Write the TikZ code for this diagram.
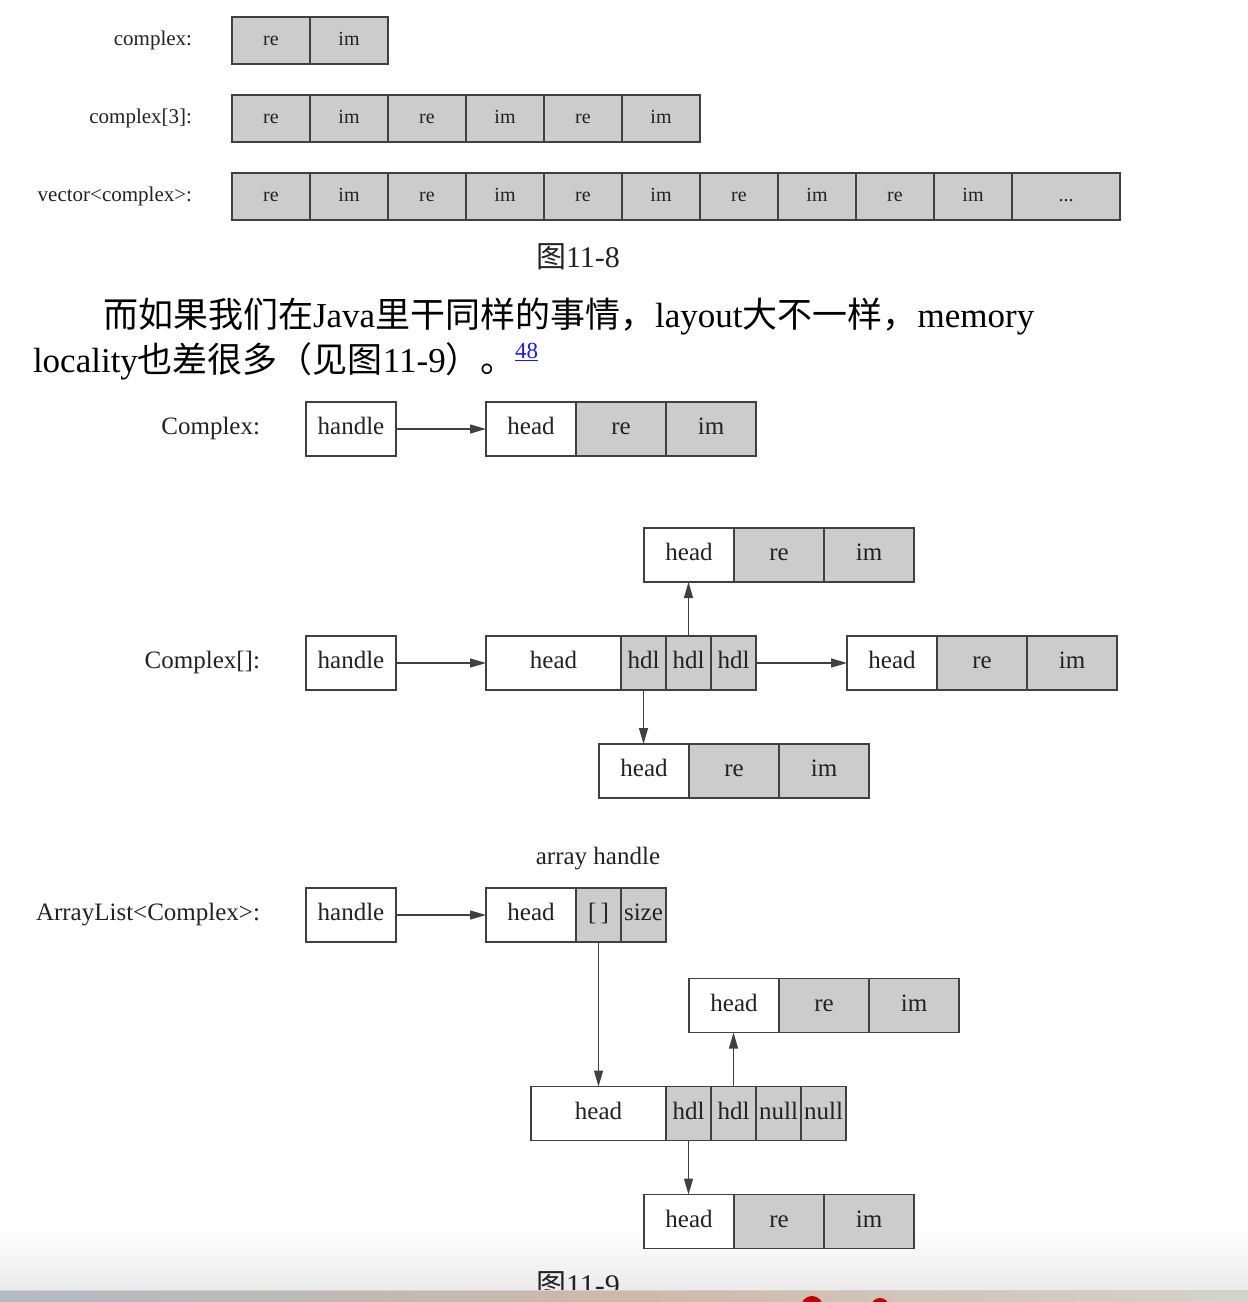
\documentclass[tikz,border=0pt]{standalone}
\usepackage{fontspec}
\setmainfont{Liberation Serif}
\newfontfamily\cjk{Noto Sans CJK SC}
\usetikzlibrary{arrows.meta}
\definecolor{cellgray}{HTML}{CCCCCC}
\definecolor{linec}{HTML}{404040}
\definecolor{txt}{HTML}{222222}
\definecolor{linkblue}{HTML}{1A1AE6}
\begin{document}
\begin{tikzpicture}[x=1pt,y=-1pt,
  every node/.style={inner sep=0pt, outer sep=0pt},
  tcell/.style={draw=linec, line width=1.3pt, fill=cellgray, minimum width=78pt, minimum height=47pt,
    text=txt, font=\fontsize{20}{24}\selectfont, text height=13.6pt, text depth=4.4pt, anchor=west},
  tlabel/.style={text=txt, font=\fontsize{21}{25}\selectfont, text height=14.3pt, text depth=4.6pt, anchor=east},
  mcell/.style={draw=linec, line width=1.3pt, fill=white, minimum width=90pt, minimum height=54pt,
    text=txt, font=\fontsize{25}{30}\selectfont, text height=17pt, text depth=5.5pt, anchor=west},
  gc/.style={fill=cellgray},
  mlabel/.style={text=txt, font=\fontsize{25}{30}\selectfont, text height=17pt, text depth=5.5pt, anchor=east},
  arr/.style={draw=linec, line width=1.3pt, -{Triangle[length=16pt,width=9pt]}},
  caption/.style={text=txt, font=\fontsize{30}{34}\selectfont},
  para/.style={text=black, font=\fontsize{35}{42}\selectfont, anchor=west}
]
\useasboundingbox (0,0) rectangle (1248,1302);
\fill[white] (0,0) rectangle (1248,1302);
\shade[top color=white, bottom color=black!8] (0,1228) rectangle (1248,1290);

% ---------- figure 11-8 ----------
\node[tlabel] (la) at (192,40.5) {complex:};
\node[tcell] (a1) at (232,40.5) {re};
\node[tcell] (a2) at (a1.east) {im};

\node[tlabel] (lb) at (192,118.5) {complex[3]:};
\foreach \i/\t in {1/re,2/im,3/re,4/im,5/re,6/im}
  \node[tcell] (b\i) at ({232+78*(\i-1)},118.5) {\t};

\node[tlabel] (lc) at (192,196.5) {vector<complex>:};
\foreach \i/\t in {1/re,2/im,3/re,4/im,5/re,6/im,7/re,8/im,9/re,10/im}
  \node[tcell] (c\i) at ({232+78*(\i-1)},196.5) {\t};
\node[tcell, minimum width=108pt] (cdots) at (c10.east) {...};

\node[caption] (cap1) at (578,257) {{\cjk 图}11-8};

% ---------- paragraph ----------
\node[para] (p1) at (103,316) {{\cjk 而如果我们在}Java{\cjk 里干同样的事情，}layout{\cjk 大不一样，}memory};
\node[para] (p2) at (33,361) {locality{\cjk 也差很多（见图}11-9{\cjk ）。}};
\node[anchor=west, text=linkblue, font=\fontsize{23}{27}\selectfont] (fn) at (515,352) {\underline{48}};

% ---------- Complex ----------
\node[mlabel] (l1) at (260,429) {Complex:};
\node[mcell] (h1) at (306,429) {handle};
\node[mcell] (o1) at (486,429) {head};
\node[mcell,gc] (o1r) at (o1.east) {re};
\node[mcell,gc] (o1i) at (o1r.east) {im};
\draw[arr] (h1.east) -- (o1.west);

% ---------- Complex[] ----------
\node[mlabel] (l2) at (260,663) {Complex[]:};
\node[mcell] (h2) at (306,663) {handle};
\node[mcell, minimum width=135pt] (ar) at (486,663) {head};
\node[mcell,gc, minimum width=45pt] (d1) at (ar.east) {hdl};
\node[mcell,gc, minimum width=45pt] (d2) at (d1.east) {hdl};
\node[mcell,gc, minimum width=45pt] (d3) at (d2.east) {hdl};

\node[mcell] (t1) at (644,555) {head};
\node[mcell,gc] (t1r) at (t1.east) {re};
\node[mcell,gc] (t1i) at (t1r.east) {im};

\node[mcell] (r1) at (847,663) {head};
\node[mcell,gc] (r1r) at (r1.east) {re};
\node[mcell,gc] (r1i) at (r1r.east) {im};

\node[mcell] (u1) at (599,771) {head};
\node[mcell,gc] (u1r) at (u1.east) {re};
\node[mcell,gc] (u1i) at (u1r.east) {im};

\draw[arr] (h2.east) -- (ar.west);
\draw[arr] (d2.north) -- (d2.north |- t1.south);
\draw[arr] (d1.south) -- (d1.south |- u1.north);
\draw[arr] (d3.east) -- (r1.west);

% ---------- ArrayList<Complex> ----------
\node[text=txt, font=\fontsize{25}{30}\selectfont] (ah) at (598,859) {array handle};
\node[mlabel] (l3) at (260,915) {ArrayList<Complex>:};
\node[mcell] (h3) at (306,915) {handle};
\node[mcell] (al) at (486,915) {head};
\node[mcell,gc, minimum width=45pt] (alb) at (al.east) {[\,]};
\node[mcell,gc, minimum width=45pt] (als) at (alb.east) {size};

\node[mcell, minimum width=135pt] (ea) at (531,1113.5) {head};
\node[mcell,gc, minimum width=45pt] (e1) at (ea.east) {hdl};
\node[mcell,gc, minimum width=45pt] (e2) at (e1.east) {hdl};
\node[mcell,gc, minimum width=45pt] (e3) at (e2.east) {null};
\node[mcell,gc, minimum width=45pt] (e4) at (e3.east) {null};

\node[mcell] (t2) at (689,1005.5) {head};
\node[mcell,gc] (t2r) at (t2.east) {re};
\node[mcell,gc] (t2i) at (t2r.east) {im};

\node[mcell] (u2) at (644,1221.5) {head};
\node[mcell,gc] (u2r) at (u2.east) {re};
\node[mcell,gc] (u2i) at (u2r.east) {im};

\draw[arr] (h3.east) -- (al.west);
\draw[arr] (alb.south) -- (alb.south |- ea.north);
\draw[arr] (e2.north) -- (e2.north |- t2.south);
\draw[arr] (e1.south) -- (e1.south |- u2.north);

% ---------- bottom ----------
\node[caption] (cap2) at (578,1285) {{\cjk 图}11-9};
\shade[left color={rgb,255:red,180;green,186;blue,196}, right color={rgb,255:red,214;green,210;blue,204}, middle color={rgb,255:red,205;green,185;blue,168}] (0,1290) rectangle (1248,1302);
\draw[black!18, line width=0.8pt] (0,1290) -- (1248,1290);
\begin{scope}
  \clip (0,1291) rectangle (1248,1302);
  \fill[red!75!black] (812,1307) circle (11);
  \fill[red!75!black] (880,1307) circle (9);
\end{scope}
\end{tikzpicture}
\end{document}
